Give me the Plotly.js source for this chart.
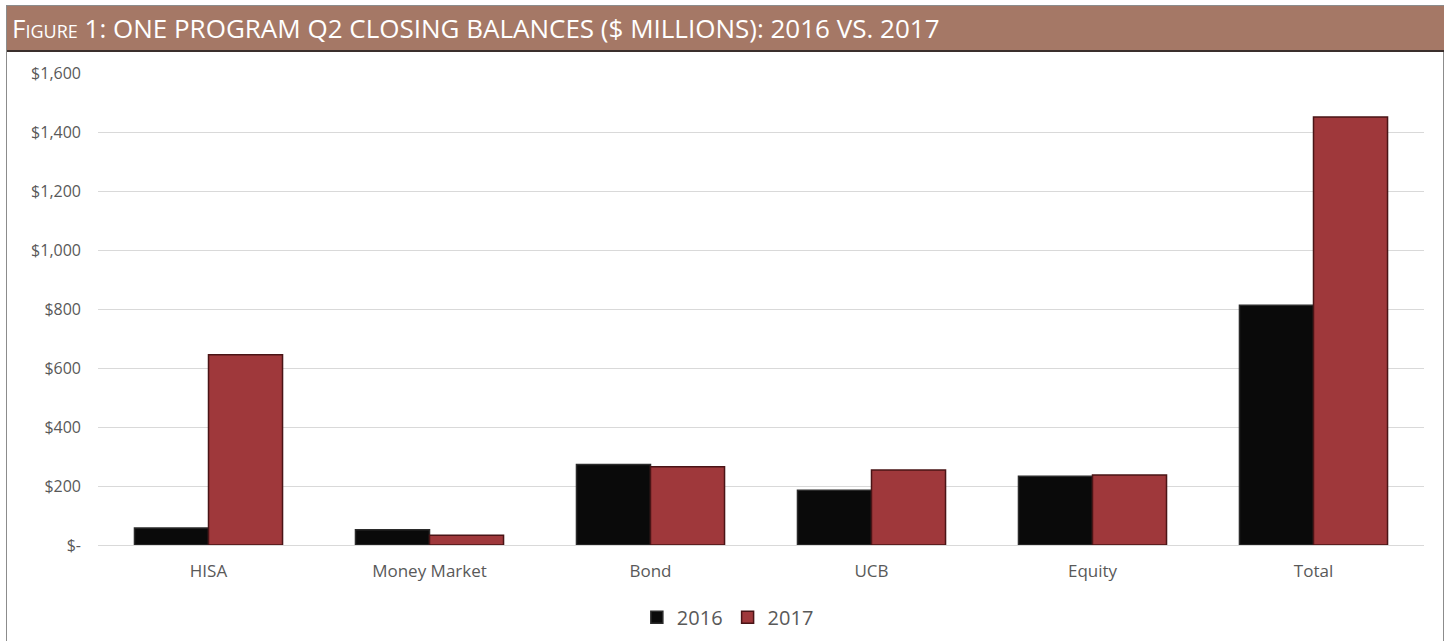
<!DOCTYPE html>
<html>
<head>
<meta charset="utf-8">
<script src="https://cdn.plot.ly/plotly-3.0.1.min.js"></script>
<style>
  body { margin: 0; background: #fff; overflow: hidden; }
  #wrap { position: relative; width: 1448px; height: 641px; overflow: hidden; }
  #box { position: absolute; left: 6px; top: 5px; width: 1438px; height: 640px; border: 1px solid #8c8c8c; box-sizing: border-box; }
  #head {
    position: absolute; left: 7px; top: 6px; width: 1437px; height: 46px;
    background: #a57866; border-bottom: 2px solid #3a2f2c; box-sizing: border-box;
    color: #fff; font-family: "Open Sans", sans-serif; font-size: 26px;
    font-variant: small-caps; line-height: 44px; padding-left: 5px; white-space: nowrap;
  }
  #chart { position: absolute; left: 0; top: 0; width: 1448px; height: 641px; }
</style>
</head>
<body>
<div id="wrap">
  <div id="chart"></div>
  <div id="box"></div>
  <div id="head">Figure 1: ONE PROGRAM Q2 CLOSING BALANCES ($ MILLIONS): 2016 VS. 2017</div>
</div>
<script>
var categories = ['HISA', 'Money Market', 'Bond', 'UCB', 'Equity', 'Total'];
var values2016 = [58, 52, 273, 186, 233, 813];
var values2017 = [645, 33, 265, 254, 237, 1451];
var tickVals = [0, 200, 400, 600, 800, 1000, 1200, 1400, 1600];
var tickText = ['$-', '$200', '$400', '$600', '$800', '$1,000', '$1,200', '$1,400', '$1,600'];

var bars2016 = {
  x: categories,
  y: values2016,
  name: '2016',
  type: 'bar',
  marker: {
    color: '#0a0a0a',
    line: {color: '#2b2b2b', width: 1.5}
  },
  hoverinfo: 'x+y+name'
};

var bars2017 = {
  x: categories,
  y: values2017,
  name: '2017',
  type: 'bar',
  marker: {
    color: '#9f383b',
    line: {color: '#4a1416', width: 1.5}
  },
  hoverinfo: 'x+y+name'
};

var data = [bars2016, bars2017];

var layout = {
  width: 1448,
  height: 641,
  barmode: 'group',
  bargap: 0.33,
  bargroupgap: 0,
  paper_bgcolor: 'rgba(0,0,0,0)',
  plot_bgcolor: 'rgba(0,0,0,0)',
  font: {family: '"Open Sans", sans-serif', color: '#595959', size: 16},
  showlegend: true,
  legend: {
    orientation: 'h',
    x: 0.475, xanchor: 'center',
    yref: 'container',
    y: 0.037, yanchor: 'middle',
    font: {size: 20, color: '#595959'},
    itemwidth: 30,
    traceorder: 'normal'
  },
  xaxis: {
    type: 'category',
    automargin: false,
    showgrid: false,
    showline: false,
    zeroline: false,
    ticks: '',
    ticklabelstandoff: 14,
    tickfont: {size: 17, color: '#595959'}
  },
  yaxis: {
    range: [0, 1600],
    automargin: false,
    tickvals: tickVals,
    ticktext: tickText,
    showgrid: true,
    gridcolor: '#d9d9d9',
    gridwidth: 1,
    zeroline: true,
    zerolinecolor: '#d9d9d9',
    showline: false,
    ticks: '',
    ticklabelstandoff: 16,
    tickfont: {size: 16, color: '#595959'}
  },
  margin: {l: 98, r: 24, t: 73, b: 96, pad: 0}
};

var config = {responsive: false, displayModeBar: false};

Plotly.newPlot('chart', data, layout, config);
</script>
</body>
</html>
